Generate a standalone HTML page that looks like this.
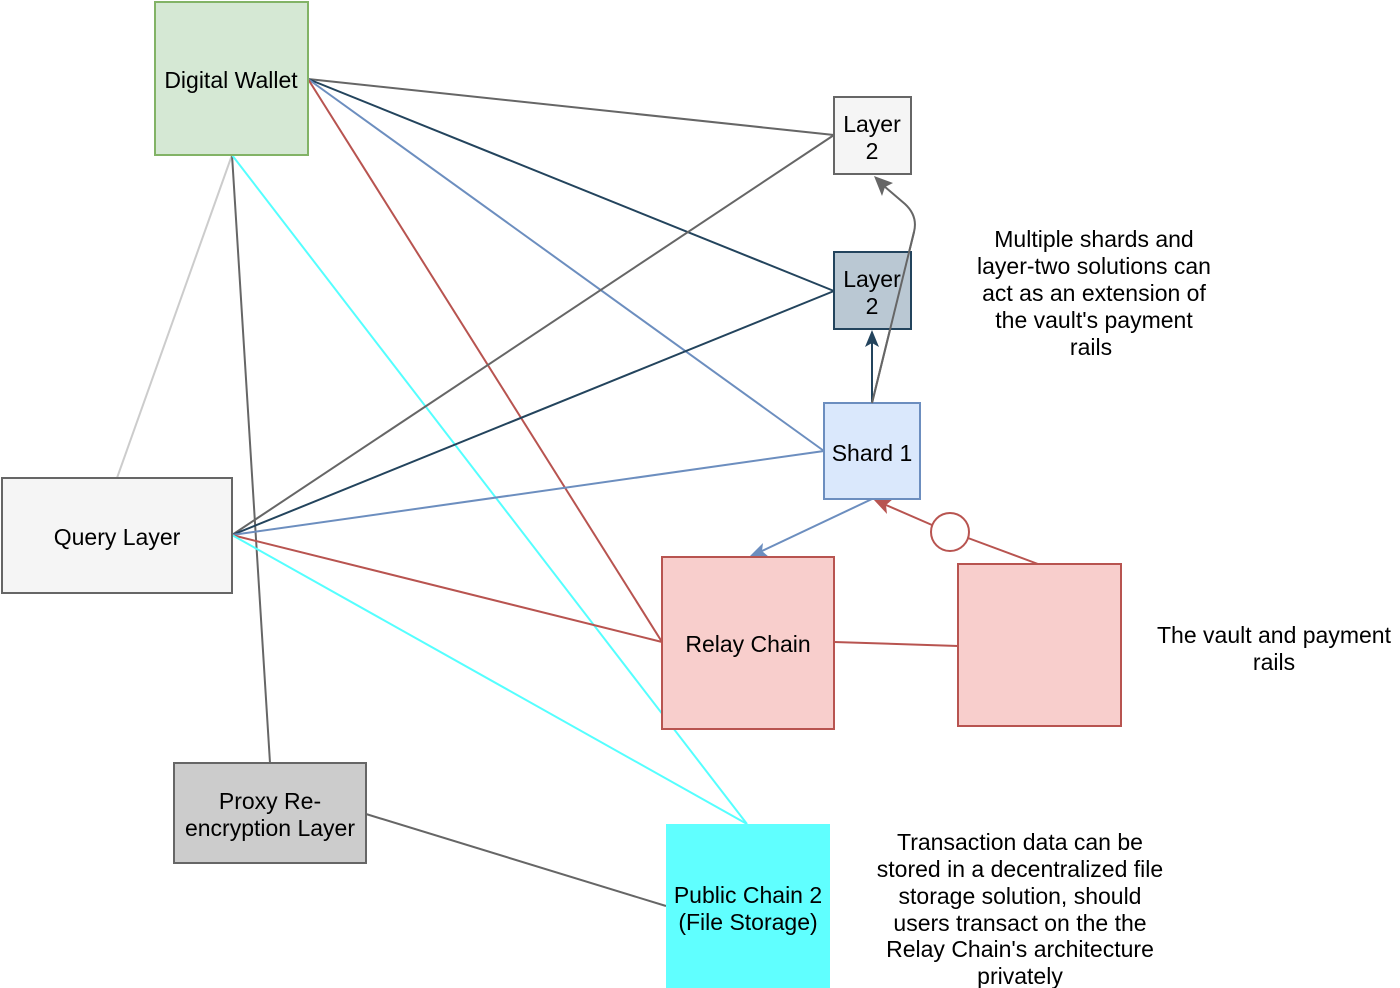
<!DOCTYPE html>
<html><head><meta charset="utf-8"><style>
html,body{margin:0;padding:0;background:#fff;}
svg{display:block;font-family:"Liberation Sans",Helvetica,Arial,sans-serif;}
text{font-size:23px;fill:#000;text-anchor:middle;}
</style></head><body>
<svg width="1400" height="988" viewBox="0 0 1400 988">
<g fill="none" stroke-width="2">
<line x1="308" y1="79" x2="834" y2="135" stroke="#666"/>
<line x1="308" y1="79" x2="834" y2="291" stroke="#23445d"/>
<line x1="308" y1="79" x2="824" y2="451" stroke="#6c8ebf"/>
<line x1="308" y1="79" x2="662" y2="642" stroke="#b85450"/>
<line x1="232" y1="155" x2="117" y2="478" stroke="#ccc"/>
<line x1="232" y1="155" x2="270" y2="763" stroke="#666"/>
<line x1="232" y1="155" x2="747" y2="824" stroke="#55ffff"/>
<line x1="232" y1="535" x2="834" y2="135" stroke="#666"/>
<line x1="232" y1="535" x2="834" y2="291" stroke="#23445d"/>
<line x1="232" y1="535" x2="824" y2="451" stroke="#6c8ebf"/>
<line x1="232" y1="535" x2="662" y2="642" stroke="#b85450"/>
<line x1="232" y1="535" x2="747" y2="824" stroke="#55ffff"/>
<line x1="366" y1="814" x2="666" y2="906" stroke="#666"/>
<line x1="834" y1="642" x2="958" y2="646" stroke="#b85450"/>
<line x1="872" y1="403" x2="872" y2="340" stroke="#23445d"/>
<path d="M872,403 L914,232 Q918,216 905,204 L884,186" stroke="#666"/>
<line x1="872" y1="499" x2="762" y2="551" stroke="#6c8ebf"/>
<line x1="1038" y1="564" x2="968" y2="538" stroke="#b85450"/>
<line x1="932" y1="525" x2="886" y2="505" stroke="#b85450"/>
<circle cx="950" cy="532" r="19" stroke="#b85450" fill="#fff"/>
</g>
<path d="M872,330 L879,347 L872,343 L865,347 z" fill="#23445d"/>
<path d="M874,176 L893,183 L885,187 L882,196 z" fill="#666"/>
<path d="M750,556 L763,543 L762,551 L769,557 z" fill="#6c8ebf"/>
<path d="M874,500 L893,499 L886,505 L887,514 z" fill="#b85450"/>
<g stroke-width="2">
<rect x="155" y="2" width="153" height="153" fill="#d5e8d4" stroke="#82b366"/>
<rect x="834" y="97" width="77" height="77" fill="#f5f5f5" stroke="#666"/>
<rect x="834" y="252" width="77" height="77" fill="#bac8d3" stroke="#23445d"/>
<rect x="824" y="403" width="96" height="96" fill="#dae8fc" stroke="#6c8ebf"/>
<rect x="2" y="478" width="230" height="115" fill="#f5f5f5" stroke="#666"/>
<rect x="662" y="557" width="172" height="172" fill="#f8cecc" stroke="#b85450"/>
<rect x="958" y="564" width="163" height="162" fill="#f8cecc" stroke="#b85450"/>
<rect x="174" y="763" width="192" height="100" fill="#ccc" stroke="#666"/>
<rect x="666" y="824" width="164" height="164" fill="#60ffff" stroke="none"/>
</g>
<line x1="872" y1="403" x2="914" y2="232" stroke="#666" stroke-width="2"/>
<text x="231" y="88">Digital Wallet</text>
<text x="872" y="132">Layer</text><text x="872" y="159">2</text>
<text x="872" y="287">Layer</text><text x="872" y="314">2</text>
<text x="872" y="461">Shard 1</text>
<text x="117" y="545">Query Layer</text>
<text x="748" y="652">Relay Chain</text>
<text x="270" y="809">Proxy Re-</text><text x="270" y="836">encryption Layer</text>
<text x="748" y="903">Public Chain 2</text><text x="748" y="930">(File Storage)</text>
<text x="1094" y="247">Multiple shards and</text>
<text x="1094" y="274">layer-two solutions can</text>
<text x="1094" y="301">act as an extension of</text>
<text x="1094" y="328">the vault's payment</text>
<text x="1091" y="355">rails</text>
<text x="1274" y="643">The vault and payment</text>
<text x="1274" y="670">rails</text>
<text x="1020" y="850">Transaction data can be</text>
<text x="1020" y="877">stored in a decentralized file</text>
<text x="1020" y="904">storage solution, should</text>
<text x="1020" y="931">users transact on the the</text>
<text x="1020" y="957">Relay Chain's architecture</text>
<text x="1020" y="984">privately</text>
</svg>
</body></html>
